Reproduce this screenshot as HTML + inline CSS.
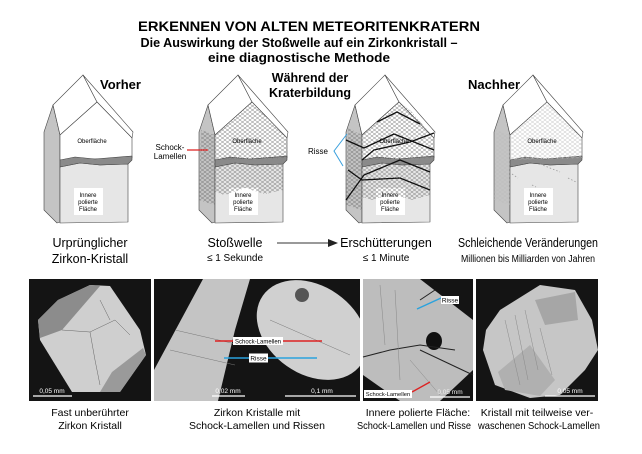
<!DOCTYPE html>
<html><head><meta charset="utf-8"><style>
html,body{margin:0;padding:0;background:#fff}
svg{display:block}
text{font-family:"Liberation Sans",sans-serif}
</style></head><body>
<svg width="642" height="454" viewBox="0 0 642 454" xmlns="http://www.w3.org/2000/svg">
<defs>
<pattern id="hx" width="5" height="4" patternUnits="userSpaceOnUse">
<path d="M0,0 L5,4 M5,0 L0,4" stroke="#666" stroke-width="0.45" fill="none"/>
</pattern>
<pattern id="hl" width="5" height="4" patternUnits="userSpaceOnUse">
<path d="M0,0 L5,4 M5,0 L0,4" stroke="#bbb" stroke-width="0.45" fill="none"/>
</pattern>
<g id="base" stroke="#444" stroke-width="0.6" stroke-linejoin="round">
<polygon points="53,105 60,135 60,222 57,223 44,210 44,132" fill="#c4c4c4"/>
<polygon points="53,105 83,75 97,102 60,135" fill="#fff"/>
<polygon points="83,75 133,132 132,138 97,102" fill="#fff"/>
<polygon points="60,135 97,102 132,138 132,158 60,160" fill="#fff"/>
<polygon points="60,167 80,163 100,165 128,164 128,222 60,223" fill="#e6e6e6"/>
<path d="M60,160 L75,157 L95,159 L132,156 L132,160 L128,164 L100,165 L80,163 L60,167 Z" fill="#8a8a8a"/>
<rect x="74" y="188" width="29" height="27" fill="#fff" stroke="none"/>
</g>
</defs>

<!-- titles -->
<text x="309" y="31" font-size="13.5" font-weight="bold" text-anchor="middle" textLength="342" lengthAdjust="spacingAndGlyphs">ERKENNEN VON ALTEN METEORITENKRATERN</text>
<text x="299" y="47" font-size="12.5" font-weight="bold" text-anchor="middle" textLength="317" lengthAdjust="spacingAndGlyphs">Die Auswirkung der Stoßwelle auf ein Zirkonkristall –</text>
<text x="299" y="62" font-size="12.5" font-weight="bold" text-anchor="middle" textLength="182" lengthAdjust="spacingAndGlyphs">eine diagnostische Methode</text>

<!-- crystal 1 -->
<use href="#base"/>
<text x="92" y="143" font-size="6" text-anchor="middle">Oberfläche</text>
<text x="88" y="197" font-size="6" text-anchor="middle">Innere</text>
<text x="88" y="204" font-size="6" text-anchor="middle">polierte</text>
<text x="88" y="211" font-size="6" text-anchor="middle">Fläche</text>
<text x="100" y="89" font-size="13" font-weight="bold">Vorher</text>

<!-- crystal 2 -->
<g transform="translate(155,0)">
<use href="#base"/>
<polygon points="60,135 97,102 132,138 132,158 60,160" fill="url(#hx)"/>
<polygon points="60,167 80,163 100,165 128,164 128,190 110,194 90,188 70,195 60,192" fill="url(#hx)"/>
<polygon points="46,130 60,135 60,205 44,200" fill="url(#hx)"/>
<polygon points="97,102 132,138 110,115" fill="url(#hx)"/>
<text x="92" y="143" font-size="6" text-anchor="middle">Oberfläche</text>
<text x="88" y="197" font-size="6" text-anchor="middle">Innere</text>
<text x="88" y="204" font-size="6" text-anchor="middle">polierte</text>
<text x="88" y="211" font-size="6" text-anchor="middle">Fläche</text>
</g>
<text x="170" y="150" font-size="8" text-anchor="middle">Schock-</text>
<text x="170" y="159" font-size="8" text-anchor="middle">Lamellen</text>
<line x1="187" y1="150" x2="208" y2="150" stroke="#d22" stroke-width="1.2"/>

<!-- crystal 3 -->
<g transform="translate(302,0)">
<use href="#base"/>
<polygon points="60,135 97,102 132,138 132,158 60,160" fill="url(#hx)"/>
<polygon points="60,167 80,163 100,165 128,164 128,195 110,200 90,194 70,200 60,197" fill="url(#hx)"/>
<polygon points="46,128 60,135 60,210 44,205" fill="url(#hx)"/>
<polygon points="97,102 132,138 110,112" fill="url(#hx)"/>
<g stroke="#111" stroke-width="1.3" fill="none">
<path d="M44,140 L62,148 L92,134 L132,150"/>
<path d="M60,160 L72,150 L108,142 L132,133"/>
<path d="M44,200 L62,175 L98,160 L128,172"/>
<path d="M46,170 L60,180 L98,178 L128,190"/>
<path d="M75,122 L95,112 L118,124"/>
</g>
<text x="92" y="143" font-size="6" text-anchor="middle">Oberfläche</text>
<text x="88" y="197" font-size="6" text-anchor="middle">Innere</text>
<text x="88" y="204" font-size="6" text-anchor="middle">polierte</text>
<text x="88" y="211" font-size="6" text-anchor="middle">Fläche</text>
</g>
<text x="318" y="154" font-size="8" text-anchor="middle">Risse</text>
<path d="M347,134 L334,151 L343,166" stroke="#3aa0dd" stroke-width="1" fill="none"/>
<text x="310" y="82" font-size="12.5" font-weight="bold" text-anchor="middle">Während der</text>
<text x="310" y="97" font-size="12.5" font-weight="bold" text-anchor="middle">Kraterbildung</text>

<!-- crystal 4 -->
<g transform="translate(450,0)">
<use href="#base"/>
<polygon points="60,135 97,102 132,138 132,158 60,160" fill="url(#hl)"/>
<polygon points="46,130 60,135 60,205 44,200" fill="url(#hl)"/>
<g stroke="#999" stroke-width="0.8" stroke-dasharray="1.5,2" fill="none">
<path d="M90,164 L110,172"/><path d="M118,178 L126,182"/><path d="M62,174 L68,178"/><path d="M82,185 L86,187"/>
</g>
<text x="92" y="143" font-size="6" text-anchor="middle">Oberfläche</text>
<text x="88" y="197" font-size="6" text-anchor="middle">Innere</text>
<text x="88" y="204" font-size="6" text-anchor="middle">polierte</text>
<text x="88" y="211" font-size="6" text-anchor="middle">Fläche</text>
</g>
<text x="468" y="89" font-size="13" font-weight="bold">Nachher</text>

<!-- step labels -->
<text x="90" y="247" font-size="12.5" text-anchor="middle">Urprünglicher</text>
<text x="90" y="263" font-size="12.5" text-anchor="middle">Zirkon-Kristall</text>
<text x="235" y="247" font-size="12.5" text-anchor="middle">Stoßwelle</text>
<text x="235" y="261" font-size="10" text-anchor="middle">≤ 1 Sekunde</text>
<line x1="277" y1="243" x2="330" y2="243" stroke="#333" stroke-width="1"/>
<polygon points="328,239 338,243 328,247" fill="#222"/>
<text x="386" y="247" font-size="12.5" text-anchor="middle">Erschütterungen</text>
<text x="386" y="261" font-size="10" text-anchor="middle">≤ 1 Minute</text>
<text x="528" y="247" font-size="12.5" text-anchor="middle" textLength="140" lengthAdjust="spacingAndGlyphs">Schleichende Veränderungen</text>
<text x="528" y="262" font-size="10" text-anchor="middle" textLength="134" lengthAdjust="spacingAndGlyphs">Millionen bis Milliarden von Jahren</text>

<!-- photo 1 -->
<rect x="29" y="279" width="122" height="122" fill="#141414"/>
<polygon points="58,300 90,285 110,286 140,330 146,355 120,392 72,392 40,340 38,320" fill="#cfcfcf"/>
<polygon points="58,300 90,285 100,286 62,330 40,338 38,320" fill="#8c8c8c"/>
<polygon points="120,392 146,355 143,348 112,372 100,392" fill="#9a9a9a"/>
<g stroke="#666" stroke-width="0.5" fill="none"><path d="M62,330 L90,332 L115,320 L130,335"/><path d="M90,332 L95,360 L100,385"/><path d="M100,300 L110,320"/></g>
<line x1="33" y1="396" x2="72" y2="396" stroke="#fff" stroke-width="1.2"/>
<text x="52" y="393" font-size="6.5" fill="#fff" text-anchor="middle">0,05 mm</text>

<!-- photo 2 -->
<rect x="154" y="279" width="206" height="122" fill="#141414"/>
<polygon points="203,279 250,279 235,330 218,401 154,401 154,370" fill="#c4c4c4"/>
<ellipse cx="312" cy="330" rx="60" ry="44" transform="rotate(35 312 330)" fill="#d0d0d0"/>
<rect x="154" y="279" width="206" height="122" fill="none" stroke="#fff" stroke-width="0"/>
<circle cx="302" cy="295" r="7" fill="#555"/>
<g stroke="#777" stroke-width="0.5"><path d="M175,330 L240,345"/><path d="M170,350 L235,365"/><path d="M270,320 L350,355"/></g>
<rect x="360" y="279" width="3" height="122" fill="#fff"/>
<line x1="215" y1="341" x2="322" y2="341" stroke="#d22" stroke-width="1.5"/>
<rect x="233" y="337" width="50" height="8" fill="#fff"/>
<text x="258" y="343.5" font-size="6" text-anchor="middle">Schock-Lamellen</text>
<line x1="224" y1="358" x2="317" y2="358" stroke="#2aa2dd" stroke-width="1.5"/>
<rect x="249" y="353.5" width="19" height="9" fill="#fff"/>
<text x="258.5" y="360.5" font-size="6.5" text-anchor="middle">Risse</text>
<line x1="212" y1="396" x2="245" y2="396" stroke="#fff" stroke-width="1.2"/>
<text x="228" y="393" font-size="6.5" fill="#fff" text-anchor="middle">0,02 mm</text>
<line x1="285" y1="396" x2="356" y2="396" stroke="#fff" stroke-width="1.2"/>
<text x="322" y="393" font-size="6.5" fill="#fff" text-anchor="middle">0,1 mm</text>

<!-- photo 3 -->
<rect x="363" y="279" width="110" height="122" fill="#141414"/>
<polygon points="363,279 420,279 473,320 473,370 440,401 400,401 363,375" fill="#bdbdbd"/>
<ellipse cx="434" cy="341" rx="8" ry="9" fill="#111"/>
<g stroke="#222" stroke-width="1" fill="none"><path d="M363,357 L390,350 L420,345 L455,350"/><path d="M420,350 L473,375"/><path d="M420,300 L435,290"/></g>
<g stroke="#888" stroke-width="0.5" fill="none"><path d="M380,285 L385,345"/><path d="M395,290 L400,380"/><path d="M410,360 L440,395"/></g>
<line x1="417" y1="309" x2="441" y2="298" stroke="#2aa2dd" stroke-width="1.5"/>
<rect x="441" y="296" width="18" height="8" fill="#fff"/>
<text x="450" y="302.5" font-size="6.5" text-anchor="middle">Risse</text>
<line x1="412" y1="392" x2="430" y2="382" stroke="#d22" stroke-width="1.3"/>
<line x1="430" y1="397" x2="470" y2="397" stroke="#fff" stroke-width="1.2"/>
<text x="450" y="394" font-size="6.5" fill="#eee" text-anchor="middle">0,05 mm</text>
<rect x="364" y="390" width="48" height="8" fill="#fff"/>
<text x="388" y="396" font-size="5.8" text-anchor="middle">Schock-Lamellen</text>

<!-- photo 4 -->
<rect x="476" y="279" width="122" height="122" fill="#141414"/>
<path d="M500,310 L540,285 L575,290 L592,320 L598,350 L585,370 L560,395 L530,398 L495,385 L483,350 L486,330 Z" fill="#c6c6c6"/>
<polygon points="535,300 575,292 578,320 545,325" fill="#a6a6a6"/>
<polygon points="498,372 530,345 555,380 540,396 505,390" fill="#b0b0b0"/>
<g stroke="#8a8a8a" stroke-width="0.5"><path d="M505,320 L520,385"/><path d="M515,315 L528,380"/><path d="M525,310 L538,370"/><path d="M540,328 L552,375"/></g>
<line x1="545" y1="396" x2="595" y2="396" stroke="#fff" stroke-width="1.2"/>
<text x="570" y="393" font-size="6.5" fill="#fff" text-anchor="middle">0,05 mm</text>

<!-- captions -->
<text x="90" y="416" font-size="10.5" text-anchor="middle">Fast unberührter</text>
<text x="90" y="429" font-size="10.5" text-anchor="middle">Zirkon Kristall</text>
<text x="257" y="416" font-size="10.5" text-anchor="middle">Zirkon Kristalle mit</text>
<text x="257" y="429" font-size="10.5" text-anchor="middle">Schock-Lamellen und Rissen</text>
<text x="418" y="416" font-size="10.5" text-anchor="middle">Innere polierte Fläche:</text>
<text x="414" y="429" font-size="10.5" text-anchor="middle" textLength="114" lengthAdjust="spacingAndGlyphs">Schock-Lamellen und Risse</text>
<text x="537" y="416" font-size="10.5" text-anchor="middle">Kristall mit teilweise ver-</text>
<text x="539" y="429" font-size="10.5" text-anchor="middle" textLength="122" lengthAdjust="spacingAndGlyphs">waschenen Schock-Lamellen</text>
</svg>
</body></html>
